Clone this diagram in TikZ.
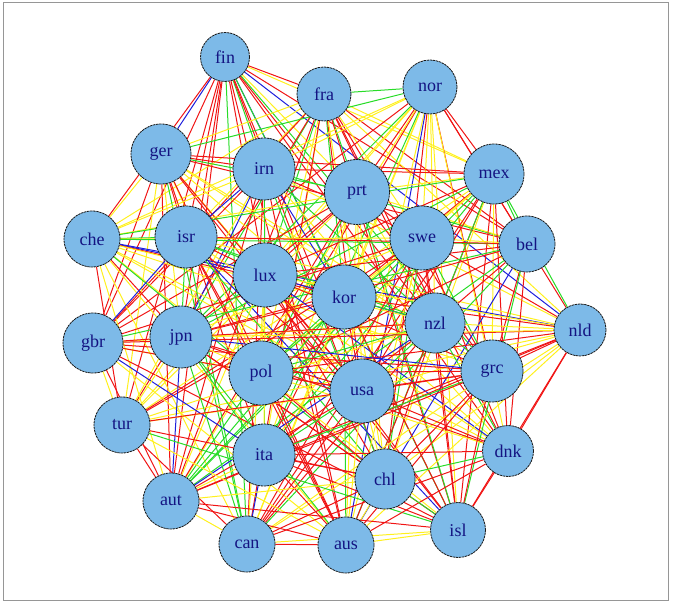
\documentclass[tikz,border=0pt]{standalone}
\usepackage{fontspec}
\setmainfont{Liberation Serif}
\usetikzlibrary{backgrounds}
\definecolor{nodefill}{RGB}{125,186,232}
\definecolor{labcol}{RGB}{20,20,130}
\definecolor{ered}{RGB}{240,20,20}
\definecolor{eyel}{RGB}{255,240,30}
\definecolor{egrn}{RGB}{40,220,40}
\definecolor{eblu}{RGB}{30,30,220}
\definecolor{framecol}{RGB}{150,150,150}
\tikzset{
  vert/.style={circle, draw=black!90, line width=0.8pt, dash pattern=on 2.4pt off 0.7pt,
    fill=nodefill, text=labcol, inner sep=0pt, font=\fontsize{18}{20}\selectfont},
  edge/.style={line width=1pt},
}
\begin{document}
\begin{tikzpicture}[x=1pt,y=-1pt]
\useasboundingbox (0,0) rectangle (673,604);
\draw[framecol, line width=1pt] (3,3) rectangle (668,600);
\foreach \nm/\x/\y/\r [count=\k] in {
  fin/225/57/24.5, fra/324/94/27, nor/430/87/27, ger/161/154/30,
  irn/264/169/31, prt/357/192/32.5, mex/494/174/30, che/92/239/28,
  isr/186/237/31, swe/422/238/32, bel/527/244/28, lux/265/275/32,
  kor/344/297/32, nzl/435/323/30, nld/580/330/26, gbr/93/343/30,
  jpn/181/337/31, pol/261/373/32, usa/362/391/32, grc/492/371/31,
  tur/122/425/28, ita/264/455/31, dnk/508/451/25.5, chl/385/479/30,
  aut/171/501/28, isl/458/530/27.5, can/247/544/28, aus/346/545/28}
  \node[vert, minimum size=2*\r pt] (n\k) at (\x,\y) {\nm};
\pgfmathsetseed{4711}
\begin{scope}[on background layer]
\foreach \i in {1,...,27}{
  \pgfmathtruncatemacro\js{\i+1}
  \foreach \j in {\js,...,28}{
    \pgfmathrandominteger{\c}{0}{99}
    \ifnum\c<12\relax
    \else\ifnum\c<54\relax
      \draw[edge, ered] (n\i) -- (n\j);
    \else\ifnum\c<79\relax
      \draw[edge, eyel] (n\i) -- (n\j);
    \else\ifnum\c<95\relax
      \draw[edge, egrn] (n\i) -- (n\j);
    \else
      \draw[edge, eblu] (n\i) -- (n\j);
    \fi\fi\fi\fi
  }
}
\end{scope}
\end{tikzpicture}
\end{document}
